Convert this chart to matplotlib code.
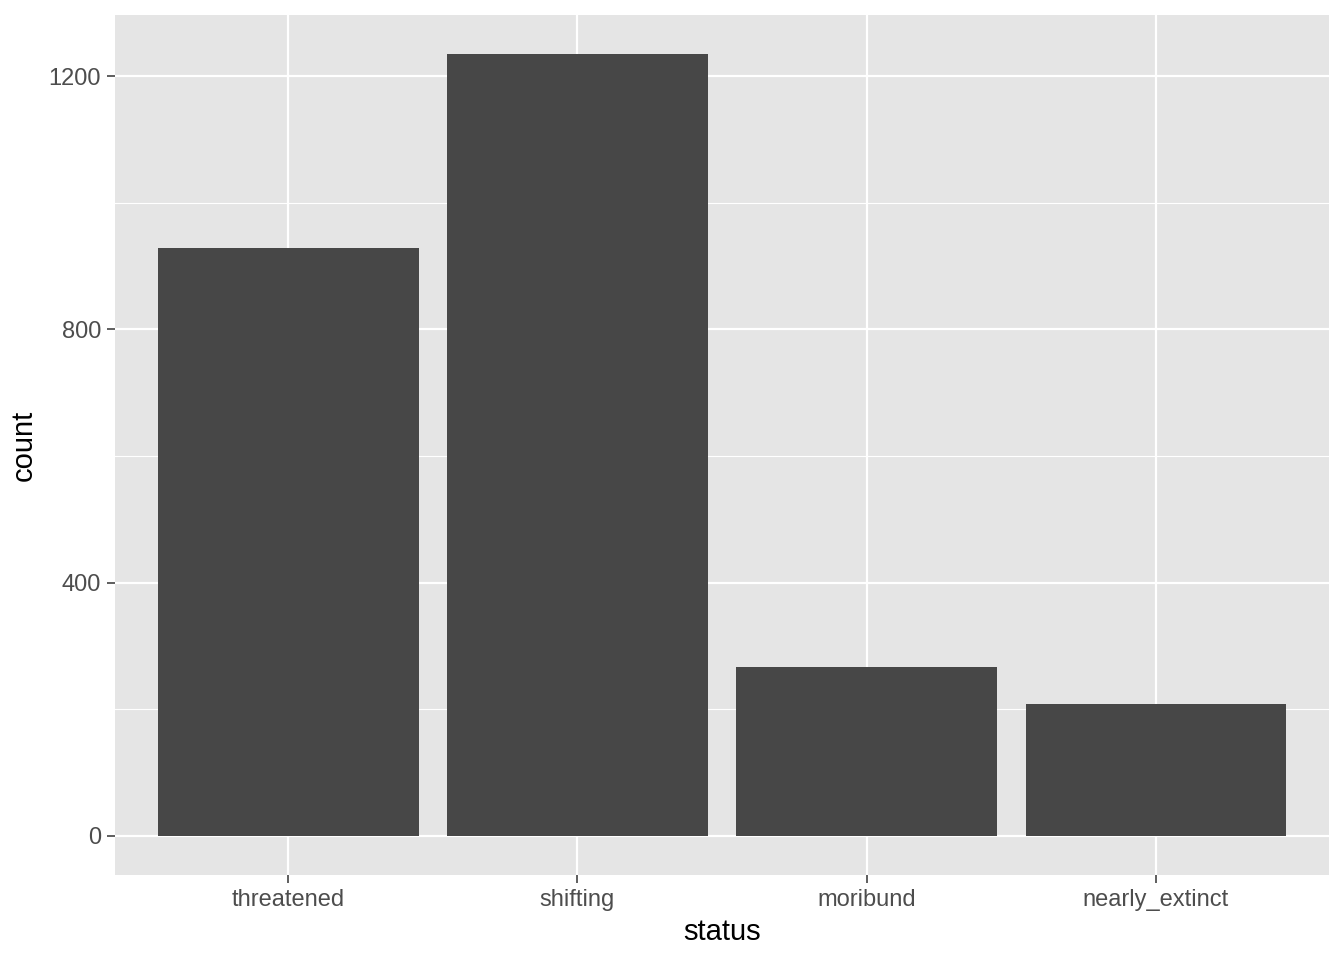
import numpy as np
import matplotlib.pyplot as plt

# data
status = ["threatened", "shifting", "moribund", "nearly_extinct"]
count = [929, 1235, 267, 208]
yticks = [0, 400, 800, 1200]

plt.rcParams['font.family'] = ['Liberation Sans', 'DejaVu Sans']

fig = plt.figure(figsize=(13.44, 9.6), dpi=100)
ax = fig.add_axes([115/1344, 1 - 875/960, (1329-115)/1344, (875-15)/960])

x = np.arange(1, len(status) + 1)
ax.set_facecolor("#E5E5E5")
ax.set_axisbelow(True)

# minor grid lines halfway between majors
for yv in [200, 600, 1000]:
    ax.axhline(yv, color="white", lw=0.8, zorder=0)
ax.grid(True, which="major", color="white", lw=1.6)

ax.bar(x, count, width=0.9, color="#474747", zorder=2)

top = max(count)
ax.set_ylim(-0.05 * top, top * 1.05)
ax.set_xlim(0.4, 4.6)
ax.set_xticks(x)
ax.set_xticklabels(status)
ax.set_yticks(yticks)

for s in ax.spines.values():
    s.set_visible(False)
ax.tick_params(axis="both", length=5.5, width=1.1, color="#333333",
               labelsize=17, labelcolor="#4D4D4D", pad=4.5)

ax.set_xlabel("status", fontsize=21, labelpad=5)
ax.set_ylabel("count", fontsize=21, labelpad=8)

plt.savefig("out.png", dpi=100)
